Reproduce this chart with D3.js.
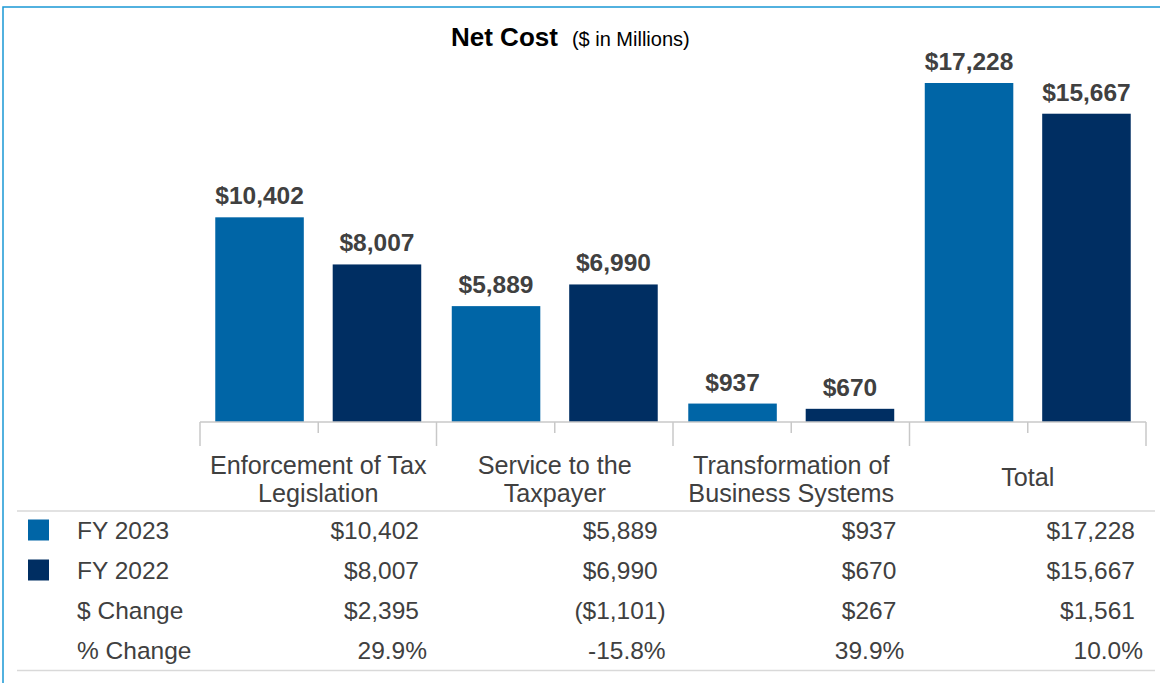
<!DOCTYPE html>
<html>
<head>
<meta charset="utf-8">
<script src="https://cdn.jsdelivr.net/npm/d3@7/dist/d3.min.js"></script>
<style>
  html, body { margin: 0; padding: 0; background: #fff; }
  svg { display: block; font-family: "Liberation Sans", Arial, sans-serif; }
</style>
</head>
<body>
<svg id="chart" width="1160" height="683"></svg>
<script>
const categories = ["Enforcement of Tax|Legislation", "Service to the|Taxpayer", "Transformation of|Business Systems", "Total"];
const seriesNames = ["FY 2023", "FY 2022"];
const fy2023 = [10402, 5889, 937, 17228];
const fy2022 = [8007, 6990, 670, 15667];
const dollarChange = ["$2,395", "($1,101)", "$267", "$1,561"];
const pctChange = ["29.9%", "-15.8%", "39.9%", "10.0%"];
const rowLabels = ["FY 2023", "FY 2022", "$ Change", "% Change"];
const colors = ["#0065a6", "#002e62"];

const svg = d3.select("#chart");
const textColor = "#404040";

// frame
svg.append("path")
  .attr("d", "M3,683 L3,7 L1160,7")
  .attr("fill", "none").attr("stroke", "#1a98d5").attr("stroke-width", 1.5);

// title
const title = svg.append("text").attr("x", 451).attr("y", 46).attr("text-anchor", "start");
title.append("tspan").text("Net Cost").attr("font-weight", "bold").attr("font-size", 26).attr("fill", "#000");
title.append("tspan").attr("dx", 14).text("($ in Millions)").attr("font-size", 20).attr("fill", "#000");

const x = d3.scaleBand().domain(categories).range([200, 1146]).paddingInner(0).paddingOuter(0);
const xs = d3.scaleBand().domain(seriesNames).range([0, x.bandwidth()]).paddingInner(0.246).paddingOuter(0.13);
const y = d3.scaleLinear().domain([0, 17228]).range([422, 83]);

const values = [fy2023, fy2022];
seriesNames.forEach((s, si) => {
  const g = svg.append("g");
  g.selectAll("rect").data(categories).join("rect")
    .attr("x", c => x(c) + xs(s))
    .attr("width", xs.bandwidth())
    .attr("y", (c, i) => y(values[si][i]))
    .attr("height", (c, i) => y(0) - y(values[si][i]))
    .attr("fill", colors[si]);
  g.selectAll("text").data(categories).join("text")
    .attr("x", c => x(c) + xs(s) + xs.bandwidth() / 2)
    .attr("y", (c, i) => y(values[si][i]) - 13)
    .attr("text-anchor", "middle")
    .attr("font-weight", "bold").attr("font-size", 24.5).attr("fill", textColor)
    .text((c, i) => "$" + d3.format(",")(values[si][i]));
});

// axis
const axisColor = "#c8c8c8";
svg.append("line").attr("x1", 200).attr("x2", 1146).attr("y1", y(0)).attr("y2", y(0))
  .attr("stroke", axisColor).attr("stroke-width", 1.5);
const boundaries = categories.map(c => x(c)).concat([x(categories[categories.length - 1]) + x.bandwidth()]);
svg.selectAll("line.tk").data(boundaries).join("line").attr("class", "tk")
  .attr("x1", d => d).attr("x2", d => d).attr("y1", y(0)).attr("y2", y(0) + 24)
  .attr("stroke", axisColor).attr("stroke-width", 1.5);
svg.selectAll("line.mtk").data(categories).join("line").attr("class", "mtk")
  .attr("x1", c => x(c) + x.bandwidth() / 2).attr("x2", c => x(c) + x.bandwidth() / 2)
  .attr("y1", y(0)).attr("y2", y(0) + 11)
  .attr("stroke", axisColor).attr("stroke-width", 1.5);

// category labels
categories.forEach(c => {
  const lines = c.split("|");
  const t = svg.append("text").attr("text-anchor", "middle").attr("font-size", 25.2).attr("fill", textColor);
  const cy = lines.length === 1 ? 477 : 465;
  lines.forEach((ln, li) => {
    t.append("tspan").attr("x", x(c) + x.bandwidth() / 2).attr("y", cy + li * 28).attr("dy", "0.35em").text(ln);
  });
});

// table
const lineColor = "#d9d9d9";
svg.append("line").attr("x1", 17).attr("x2", 1155).attr("y1", 511).attr("y2", 511).attr("stroke", lineColor).attr("stroke-width", 1.5);
svg.append("line").attr("x1", 17).attr("x2", 1155).attr("y1", 670.5).attr("y2", 670.5).attr("stroke", lineColor).attr("stroke-width", 1.5);

const rowY = d3.scaleBand().domain(rowLabels).range([510, 670]);
const tx = d3.scaleBand().domain(categories).range([188.3, 1143]);

rowLabels.forEach((r, ri) => {
  const cy = rowY(r) + rowY.bandwidth() / 2;
  if (ri < 2) {
    svg.append("rect").attr("x", 28).attr("y", cy - 10.5).attr("width", 21).attr("height", 21).attr("fill", colors[ri]);
  }
  svg.append("text").attr("x", 77).attr("y", cy).attr("dy", "0.35em")
    .attr("font-size", 24.5).attr("fill", textColor).text(r);
});

const parenPad = 8;
const fmt = v => "$" + d3.format(",")(v);
const rowsData = [fy2023.map(fmt), fy2022.map(fmt), dollarChange, pctChange];
rowsData.forEach((row, ri) => {
  const cy = rowY(rowLabels[ri]) + rowY.bandwidth() / 2;
  row.forEach((v, ci) => {
    const right = tx(categories[ci]) + tx.bandwidth();
    const isPlainDollar = v.startsWith("$");
    svg.append("text").attr("x", isPlainDollar ? right - parenPad : right).attr("y", cy).attr("dy", "0.35em")
      .attr("text-anchor", "end").attr("font-size", 24.5).attr("fill", textColor).text(v);
  });
});
</script>
</body>
</html>
